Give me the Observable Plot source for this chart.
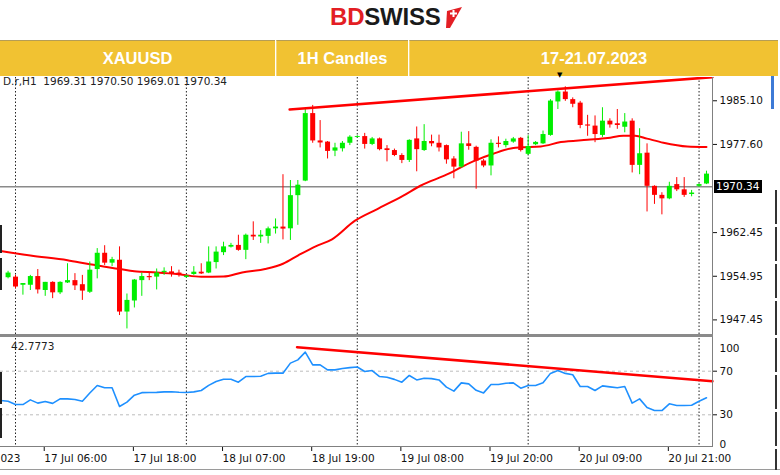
<!DOCTYPE html>
<html>
<head>
<meta charset="utf-8">
<script src="https://cdn.jsdelivr.net/npm/d3@7"></script>
<script src="https://cdn.jsdelivr.net/npm/@observablehq/plot@0.6"></script>
<style>
html,body{margin:0;padding:0;background:#fff;}
#wrap{position:relative;width:780px;height:475px;overflow:hidden;background:#fff;font-family:"DejaVu Sans",sans-serif;}
.abs{position:absolute;}
#logo{left:330px;top:5px;font-family:"Liberation Sans",Arial,sans-serif;font-weight:bold;font-size:24px;line-height:24px;letter-spacing:-0.2px;white-space:nowrap;}
#hdr{left:0;top:40px;width:778px;height:36px;z-index:5;}
.hbox{position:absolute;top:0;height:36px;background:#f1c232;color:#fff;font-family:"Liberation Sans",Arial,sans-serif;font-weight:bold;font-size:16.5px;display:flex;align-items:center;justify-content:center;border-top:1px solid #b59d55;box-sizing:border-box;}
#main{left:0;top:77px;}
#rsi{left:0;top:338px;}
.lbl{font-size:10.5px;color:#222;white-space:nowrap;line-height:12px;}
</style>
</head>
<body>
<div id="wrap">
  <div id="logo" class="abs"><span style="color:#e31e24">BD</span><span style="color:#1a1a1a">SWISS</span></div>
  <svg class="abs" style="left:443px;top:7px" width="20" height="22" viewBox="0 0 20 22">
    <polygon points="4,4 19,0 7,21 3,21" fill="#e31e24"/>
    <rect x="9.5" y="3" width="2" height="7" fill="#fff"/>
    <rect x="7" y="5.5" width="7" height="2" fill="#fff"/>
  </svg>
  <div id="hdr" class="abs">
    <div class="hbox" style="left:0;width:275px;">XAUUSD</div>
    <div class="hbox" style="left:276px;width:132px;border-left:1px solid #f6d77a;">1H Candles</div>
    <div class="hbox" style="left:409px;width:369px;border-left:1px solid #f6d77a;">17-21.07.2023</div>
  </div>
  <div id="main" class="abs"></div>
  <div id="rsi" class="abs"></div>
  <div class="abs lbl" style="left:3px;top:75px;">D.r,H1&nbsp; 1969.31 1970.50 1969.01 1970.34</div>
  <div class="abs lbl" style="left:11px;top:340px;">42.7773</div>
  <div id="curbox" class="abs" style="left:714px;width:48px;height:13px;background:#000;color:#fff;font-size:10.5px;line-height:13px;padding-left:2px;box-sizing:border-box;">1970.34</div>
  <div class="abs" style="left:712px;top:77px;width:1px;height:370px;background:#808080;"></div>
  <div class="abs" style="left:0;top:334px;width:713px;height:3px;background:#8a8a8a;"></div>
  <div class="abs" style="left:0;top:446px;width:713px;height:1px;background:#808080;"></div>
  <div class="abs" style="left:0;top:469px;width:780px;height:1px;background:#9a9a9a;"></div>
  <div class="abs" style="left:0;top:225px;width:2px;height:28px;background:#222;"></div>
  <div class="abs" style="left:0;top:258px;width:2px;height:32px;background:#222;"></div>
  <div class="abs" style="left:0;top:372px;width:2px;height:32px;background:#222;"></div>
  <div class="abs" style="left:0;top:408px;width:2px;height:30px;background:#222;"></div>
  <div class="abs" style="left:771px;top:76px;width:3px;height:33px;background:#3d7ad6;"></div>
  <div class="abs" style="left:775px;top:190px;width:2px;height:280px;background:repeating-linear-gradient(#333 0 34px,#fff 34px 37px);"></div>
  <div class="abs" style="left:557px;top:71px;font-size:7px;color:#000;z-index:6;">▼</div>
</div>
<script>
// ---- Candle data (XAUUSD H1), bar index 0..94 ----
const opens = [1954.7,1954.8,1953.4,1953.4,1954.9,1952.5,1953.9,1952.1,1953.8,1954.2,
  1953.5,1952.2,1956.1,1958.9,1957.2,1957.7,1948.8,1950.7,1954.2,1954.9,
  1954.8,1955.6,1955.7,1955.5,1954.75,1955.25,1955.65,1955.5,1957.3,1959.0,
  1959.95,1960.25,1959.4,1962.0,1961.7,1961.8,1963.1,1963.4,1963.1,1968.8,
  1971.3,1982.9,1978.2,1978.0,1976.45,1976.85,1977.8,1978.8,1978.95,1977.6,
  1978.55,1976.85,1976.55,1975.7,1974.85,1978.55,1976.55,1978.1,1977.8,1977.4,
  1975.1,1973.7,1977.7,1977.1,1974.75,1973.9,1977.8,1977.4,1978.0,1978.65,
  1975.9,1977.55,1977.7,1979.15,1984.9,1986.6,1985.3,1984.7,1980.95,1980.75,
  1979.15,1981.6,1981.15,1980.55,1981.6,1974.0,1976.1,1970.4,1968.85,1968.25,
  1970.7,1969.8,1969.0,1970.4,1970.8];
const highs = [1955.8,1955.1,1953.7,1955.1,1956.1,1953.9,1954.0,1954.0,1957.1,1955.4,
  1955.1,1957.4,1959.7,1960.2,1958.2,1960.0,1951.9,1954.4,1955.5,1955.5,
  1956.2,1956.4,1956.6,1956.0,1955.1,1956.6,1957.1,1960.0,1960.0,1960.8,
  1960.6,1962.0,1962.2,1964.3,1962.8,1963.4,1964.8,1972.4,1971.4,1971.4,
  1983.7,1984.3,1981.7,1978.1,1977.8,1978.1,1979.1,1979.1,1979.5,1978.8,
  1978.7,1977.4,1976.8,1976.0,1978.4,1980.6,1981.0,1979.2,1979.2,1977.5,
  1975.5,1979.7,1979.8,1977.3,1975.0,1978.4,1978.9,1978.5,1978.8,1978.8,
  1979.1,1978.1,1979.9,1985.3,1986.8,1987.5,1985.6,1985.0,1982.6,1982.5,
  1983.9,1982.0,1983.6,1982.9,1982.0,1980.3,1977.7,1970.5,1969.3,1971.1,
  1971.9,1971.9,1969.7,1970.8,1973.0];
const lows = [1954.5,1952.8,1951.7,1952.5,1951.9,1951.5,1951.1,1951.8,1953.7,1952.5,
  1950.8,1952.0,1954.5,1956.8,1956.6,1948.2,1945.9,1949.5,1951.5,1954.2,
  1952.6,1955.1,1954.8,1954.8,1954.6,1955.1,1955.25,1955.4,1956.2,1958.5,
  1959.8,1959.25,1957.8,1961.1,1960.6,1960.5,1962.2,1961.2,1961.1,1963.7,
  1971.2,1977.8,1977.0,1975.1,1975.5,1976.3,1977.4,1978.7,1976.8,1977.4,
  1976.5,1974.6,1975.5,1974.3,1974.5,1972.9,1976.4,1977.2,1976.3,1974.2,
  1971.7,1973.5,1976.6,1969.9,1973.6,1972.2,1977.0,1977.0,1977.8,1976.3,
  1975.7,1977.4,1977.6,1979.0,1983.6,1985.0,1983.9,1980.3,1979.0,1977.9,
  1978.8,1980.4,1980.2,1979.6,1972.7,1972.4,1966.0,1967.3,1965.5,1968.1,
  1969.5,1968.5,1968.6,1970.2,1970.7];
const closes = [1955.5,1953.1,1953.7,1954.9,1952.6,1953.9,1952.1,1953.9,1954.2,1953.3,
  1952.4,1956.0,1958.9,1957.2,1957.8,1948.8,1950.8,1954.3,1954.9,1954.7,
  1955.5,1955.8,1955.4,1955.2,1955.0,1955.65,1955.35,1957.4,1959.1,1960.0,
  1960.25,1959.4,1962.0,1961.7,1962.0,1963.1,1963.4,1963.05,1968.8,1970.6,
  1982.9,1978.2,1977.85,1976.4,1977.0,1977.8,1978.85,1978.95,1977.6,1978.55,
  1976.7,1976.55,1975.7,1974.85,1978.3,1976.7,1978.1,1977.7,1977.0,1974.95,
  1973.7,1977.7,1977.25,1974.75,1973.9,1977.8,1977.6,1978.1,1978.55,1976.55,
  1977.25,1977.95,1979.3,1985.05,1986.6,1985.3,1984.5,1980.85,1980.75,1979.3,
  1981.6,1980.95,1980.85,1981.45,1974.0,1976.0,1970.4,1968.85,1968.25,1970.4,
  1969.8,1968.85,1969.25,1970.7,1972.5];

// ---- Moving average (read at bar positions) ----
const maIdx = [-1,3,8,11,15,17,20,23,26,29,31.5,34.6,37,39,41.4,43.6,46.7,49.7,53.2,55.5,59,62.6,65.3,68,69,71.7,74.4,78,80.7,82.8,84.4,86,88.2,91.4,94];
const maVal = [1959.3,1958.5,1957.7,1957.0,1956.2,1955.8,1955.6,1955.3,1954.85,1954.9,1955.6,1956.2,1957.1,1958.5,1960.1,1961.3,1964.5,1966.5,1968.8,1970.5,1972.4,1974.7,1976.0,1977.0,1977.1,1977.25,1978.0,1978.4,1978.7,1979.1,1979.1,1978.6,1977.9,1977.25,1977.15];

// ---- RSI values, bar index -1..94 ----
const rsiVal = [43.1,
  42.5,39.4,39.4,43.7,40.7,42.2,40.5,44.6,44.6,44.0,
  42.5,50.0,56.9,54.8,54.8,37.6,41.6,48.0,50.3,50.5,
  50.6,51.0,51.1,50.7,50.5,51.0,52.3,57.0,60.5,62.6,
  62.6,59.9,65.1,65.1,65.3,68.0,68.2,68.2,77.4,80.4,
  87.5,75.8,75.8,71.2,71.2,72.5,73.3,73.8,69.7,70.6,
  65.1,64.5,62.5,59.9,66.1,62.0,63.6,63.2,62.0,55.4,
  51.7,59.3,58.4,52.5,50.1,57.8,57.8,59.0,59.3,54.4,
  56.9,56.9,59.3,68.0,70.6,68.0,66.7,56.0,56.0,52.3,
  56.5,55.6,54.8,56.0,40.7,44.6,36.6,34.0,33.9,40.1,
  38.6,38.6,38.8,42.5,45.6];

// ---- Trend lines ----
const priceTrendIdx = [37.9, 94.8];
const priceTrendVal = [1983.6, 1989.16];
const rsiTrendIdx = [38.9, 94.8];
const rsiTrendVal = [92.0, 60.8];

// ---- Axes / labels ----
const currentPrice = 1970.34;
const priceTicks = [1985.10, 1977.60, 1962.45, 1954.95, 1947.45];
const rsiTicks = [30, 70];
const rsiEndLabels = [100, 0];
const daySepIdx = [1, 24, 47, 70, 93];
const timeIdx = [-6.2, 5, 17, 29, 41, 53, 65, 77, 89];
const timeLabels = ["17 Jul 2023","17 Jul 06:00","17 Jul 18:00","18 Jul 07:00","18 Jul 19:00","19 Jul 08:00","19 Jul 20:00","20 Jul 09:00","20 Jul 21:00"];

const GREEN = "#00ee00", RED = "#ff0000";
const candles = opens.map((o, i) => ({i, o, h: highs[i], l: lows[i], c: closes[i], col: closes[i] >= o ? GREEN : RED}));
const maPts = maIdx.map((i, k) => ({i, v: maVal[k]}));
const rsiPts = rsiVal.map((v, k) => ({i: k - 1, v}));
const pTrend = priceTrendIdx.map((i, k) => ({i, v: priceTrendVal[k]}));
const rTrend = rsiTrendIdx.map((i, k) => ({i, v: rsiTrendVal[k]}));

const xDomain = [-1.019, 94.81];
const font = {fontFamily: "DejaVu Sans", fontSize: "10.5px", color: "#111", background: "transparent", overflow: "hidden"};

const main = Plot.plot({
  width: 780, height: 258,
  marginLeft: 0, marginRight: 68, marginTop: 0, marginBottom: 0,
  style: font,
  x: {domain: xDomain, axis: null},
  y: {domain: [1944.77, 1989.10]},
  color: {type: "identity"},
  marks: [
    Plot.ruleX(daySepIdx, {x: d => d, stroke: "#222", strokeWidth: 1, strokeDasharray: "1.5,2"}),
    Plot.ruleY([currentPrice], {stroke: "#8a8a8a", strokeWidth: 1.6}),
    Plot.line(maPts, {x: "i", y: "v", stroke: RED, strokeWidth: 2, curve: "monotone-x"}),
    Plot.ruleX(candles, {x: "i", y1: "l", y2: "h", stroke: "col", strokeWidth: 1}),
    Plot.ruleX(candles, {x: "i", y1: "o", y2: "c", stroke: "col", strokeWidth: 5}),
    Plot.line(pTrend, {x: "i", y: "v", stroke: RED, strokeWidth: 2.6}),
    Plot.axisY({anchor: "right", label: null, ticks: priceTicks, tickSize: 4, tickPadding: 3, tickFormat: d => d.toFixed(2)})
  ]
});
document.getElementById("main").appendChild(main);

const rsi = Plot.plot({
  width: 780, height: 137,
  marginLeft: 0, marginRight: 68, marginTop: 0, marginBottom: 28,
  style: font,
  x: {domain: xDomain},
  y: {domain: [0, 100]},
  marks: [
    Plot.ruleY(rsiTicks, {stroke: "#bdbdbd", strokeDasharray: "3,3"}),
    Plot.ruleX(daySepIdx, {x: d => d, stroke: "#222", strokeWidth: 1, strokeDasharray: "1.5,2"}),
    Plot.line(rsiPts, {x: "i", y: "v", stroke: "#1e90ff", strokeWidth: 1.6}),
    Plot.line(rTrend, {x: "i", y: "v", stroke: RED, strokeWidth: 2.6}),
    Plot.axisY({anchor: "right", label: null, ticks: rsiTicks, tickSize: 4, tickPadding: 3}),
    Plot.text(rsiEndLabels, {x: () => xDomain[1], y: d => d, text: d => String(d), textAnchor: "start", dx: 7, fill: "#111"}),
    Plot.axisX({anchor: "bottom", label: null, ticks: timeIdx, tickSize: 4, tickPadding: 3, textAnchor: "start", dx: -1,
      tickFormat: d => timeLabels[timeIdx.indexOf(d)]})
  ]
});
document.getElementById("rsi").appendChild(rsi);
// nudge the 100 / 0 labels inside the panel like the terminal does
rsi.querySelectorAll("text").forEach(t => {
  if (t.textContent === "100") t.setAttribute("dy", "0.95em");
  if (t.textContent === "0") t.setAttribute("dy", "-0.3em");
});

const yPix = main.scale("y").apply(currentPrice);
const box = document.getElementById("curbox");
box.style.top = (77 + yPix - 6.5) + "px";
</script>
</body>
</html>
